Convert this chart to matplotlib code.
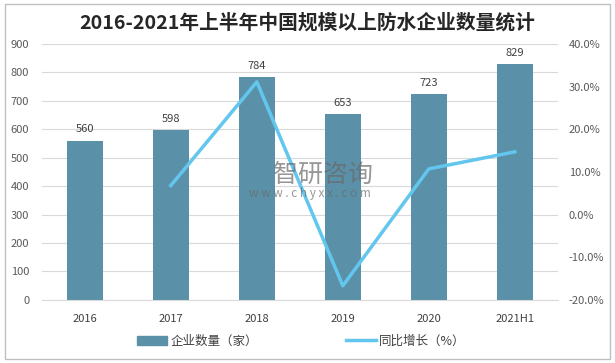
import matplotlib
matplotlib.use("Agg")
import matplotlib.pyplot as plt
from matplotlib.patches import Rectangle
from matplotlib.lines import Line2D
from matplotlib.ticker import FuncFormatter

plt.rcParams['font.family'] = ['Noto Sans CJK SC', 'DejaVu Sans']

# data
years = ['2016', '2017', '2018', '2019', '2020', '2021H1']
companies = [560, 598, 784, 653, 723, 829]
growth_years = ['2017', '2018', '2019', '2020', '2021H1']
growth = [6.8, 31.1, -16.7, 10.7, 14.7]   # %

bar_color = '#5B91A8'
line_color = '#62C6EE'
tick_color = '#595959'

fig = plt.figure(figsize=(6.15, 3.63), dpi=100)
fig.patches.append(Rectangle((0.008, 0.012), 0.984, 0.978, transform=fig.transFigure,
                             fill=False, edgecolor='#BFBFBF', linewidth=1.0))

ax = fig.add_axes([0.068, 0.174, 0.839, 0.705])
x = list(range(len(years)))
ax.bar(x, companies, width=0.42, color=bar_color, zorder=2)
ax.set_ylim(0, 900)
ax.set_yticks(range(0, 901, 100))
ax.set_xlim(-0.5, len(years) - 0.5)
ax.set_xticks(x)
ax.set_xticklabels(years, fontsize=8, color='#404040')
ax.grid(axis='y', color='#D9D9D9', linewidth=0.8, zorder=0)
ax.tick_params(axis='y', labelsize=8, labelcolor=tick_color, length=0, pad=9)
ax.tick_params(axis='x', length=0, pad=10)
for s in ax.spines.values():
    s.set_visible(False)
ax.spines['bottom'].set_visible(True)
ax.spines['bottom'].set_color('#D9D9D9')

for xi, v in zip(x, companies):
    ax.text(xi, v + 22, str(v), ha='center', va='bottom', fontsize=8, color='#404040')

ax2 = ax.twinx()
gx = [years.index(y) for y in growth_years]
ax2.plot(gx, [g / 100 for g in growth], color=line_color, linewidth=2.5, zorder=3)
ax2.set_ylim(-0.2, 0.4)
ax2.set_yticks([-0.2, -0.1, 0.0, 0.1, 0.2, 0.3, 0.4])
ax2.yaxis.set_major_formatter(FuncFormatter(lambda v, p: f'{v * 100:.1f}%'))
ax2.tick_params(axis='y', labelsize=8, labelcolor=tick_color, length=0, pad=8)
for s in ax2.spines.values():
    s.set_visible(False)

# watermark
fig.text(0.525, 0.518, '智研咨询', ha='center', va='center', fontsize=18,
         color='#6A6A6A', alpha=0.7, zorder=5)
fig.text(0.504, 0.466, 'w w w . c h y x x . c o m', ha='center', va='center', fontsize=8.5,
         color='#6A6A6A', alpha=0.7, zorder=5)

fig.suptitle('2016-2021年上半年中国规模以上防水企业数量统计', x=0.5, y=0.965,
             fontsize=14.2, fontweight='bold', color='#262626')

handles = [Rectangle((0, 0), 1, 1, color=bar_color),
           Line2D([0], [0], color=line_color, linewidth=2.5)]
fig.legend(handles, ['企业数量（家）', '同比增长（%）'], loc='center', ncol=2,
           bbox_to_anchor=(0.49, 0.06), frameon=False, fontsize=9,
           labelcolor='#404040', handlelength=2.4, columnspacing=7, handletextpad=0.3)

fig.savefig('out.png', dpi=100)
